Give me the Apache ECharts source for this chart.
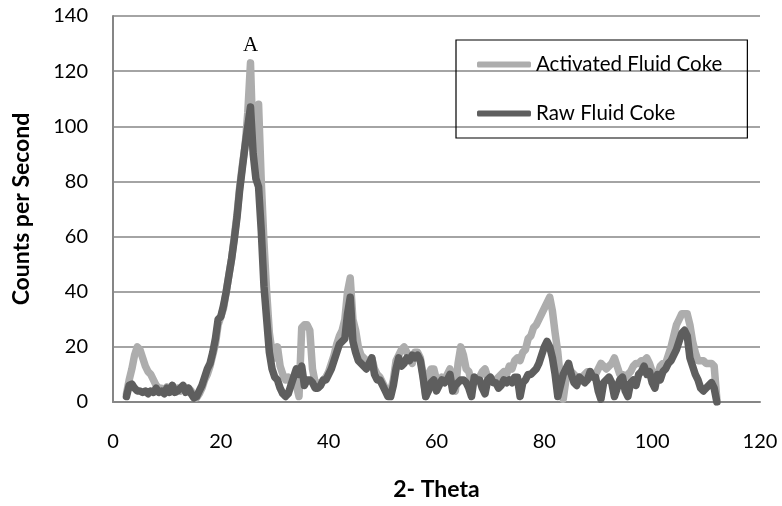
<!DOCTYPE html>
<html>
<head>
<meta charset="utf-8">
<script src="https://cdn.jsdelivr.net/npm/echarts@6/dist/echarts.min.js"></script>
<style>html,body{margin:0;padding:0;background:#fff}#c{width:782px;height:506px}</style>
</head>
<body>
<div id="c"></div>
<script>
var theta = [
2.5,3,3.5,4,4.5,5,5.5,6,6.5,7,
7.5,8,8.5,9,9.5,10,10.5,11,11.5,12,
12.5,13,13.5,14,14.5,15,15.5,16,16.5,17,
17.5,18,18.5,19,19.5,20,20.5,21,21.5,22,
22.5,23,23.5,24,24.5,25,25.5,26,26.5,27,
27.5,28,28.5,29,29.5,30,30.5,31,31.5,32,
32.5,33,33.5,34,34.5,35,35.5,36,36.5,37,
37.5,38,38.5,39,39.5,40,40.5,41,41.5,42,
42.5,43,43.5,44,44.5,45,45.5,46,46.5,47,
47.5,48,48.5,49,49.5,50,50.5,51,51.5,52,
52.5,53,53.5,54,54.5,55,55.5,56,56.5,57,
57.5,58,58.5,59,59.5,60,60.5,61,61.5,62,
62.5,63,63.5,64,64.5,65,65.5,66,66.5,67,
67.5,68,68.5,69,69.5,70,70.5,71,71.5,72,
72.5,73,73.5,74,74.5,75,75.5,76,76.5,77,
77.5,78,78.5,79,79.5,80,80.5,81,81.5,82,
82.5,83,83.5,84,84.5,85,85.5,86,86.5,87,
87.5,88,88.5,89,89.5,90,90.5,91,91.5,92,
92.5,93,93.5,94,94.5,95,95.5,96,96.5,97,
97.5,98,98.5,99,99.5,100,100.5,101,101.5,102,
102.5,103,103.5,104,104.5,105,105.5,106,106.5,107,
107.5,108,108.5,109,109.5,110,110.5,111,111.5,112
];
var activated = [
3,8,12,17,20,19,16,13,11,10,
8,6,5,5,4,5.5,4.5,6,4,5,
4,5.5,4,5,4,2,1.5,3,5,8,
10,13,17,21,28,31,34,40,46,52,
60,68,78,86,93,105,123,92,92,108,
80,58,40,25,18,16,20,13,10,8,
9,7,8,6,2,27,28,28,26,12,
7,7,6,8,9,11,14,17,21,24,
26,30,40,45,30,26,20,17,16,15,
14,16,12,10,9,7,5,4,4,8,
15,17,19,20,18,16,14,18,18,16,
10,2,10,12,12,8,7,9,8,10,
12,5,4,14,20,17,12,11,7,9,
8,9,11,12,9,8,8,8,9,10,
11,10,13,12,15,16,15,18,19,23,
24,27,28,30,32,34,36,38,33,25,
18,8,1,8,12,11,10,9,9,9,
10,11,11,9,10,12,14,13,12,13,
14,16,13,10,10,9,10,11,13,14,
14,15,15,16,14,11,10,10,13,14,
14,17,20,24,28,30,32,32,32,28,
22,18,15,15,15,14,14,14,13,1
];
var raw = [
2,6,6.5,5,4,4,3.5,4,3,4,
3.5,5,3.5,4,3,5,3.5,6,3.5,4,
5,6,3.5,5,3,1.5,2,4,6,9,
12,14,18,23,30,31,35,40,46,52,
59,67,77,85,93,100,107,90,81,78,
62,42,30,18,12,9,8,5,3,2,
3,6,9,12,10,13,6,8,8,7,
5,5,6,8,8,10,12,15,18,21,
22,23,32,38,22,18,15,14,13,12,
14,16,10,8,8,6,4,2,2,6,
12,16,13,14,16,15,17,16,17,15,
9,2,4,7,8,4,6,8,7,8,
10,4,6,7,8,8,7,5,2,9,
8,8,5,3,8,9,7,7,5,6,
8,7,8,7,9,9,2,7,8,10,
10,11,12,14,17,20,22,20,16,10,
2,6,10,12,14,10,7,6,9,8,
7,8,11,9,9,4,1,7,8,9,
7,2,5,8,9,4,2,7,8,6,
10,11,13,10,11,7,5,10,8,11,
12,14,15,17,19,22,25,26,24,16,
13,10,8,5,4,5,6,7,5,0
];
var seriesNames = ['Activated Fluid Coke', 'Raw Fluid Coke'];
var xTitle = '2- Theta';
var yTitle = 'Counts per Second';
var peakLabel = 'A';
var peakTheta = 25.5, peakValue = 123;

function pairs(ys){ var out=[]; for (var i=0;i<theta.length;i++) out.push([theta[i], ys[i]]); return out; }

var font = 'Lato';
var chart = echarts.init(document.getElementById('c'), null, {renderer:'canvas'});
chart.setOption({
  animation:false,
  backgroundColor:'#fff',
  grid:{left:113, right:22, top:16, bottom:101},
  legend:{
    left:456, top:40, orient:'vertical',
    borderColor:'#000', borderWidth:1.2,
    padding:[13,25,13,21],
    icon:'roundRect',
    itemWidth:54, itemHeight:6, itemGap:26,
    textStyle:{fontFamily:font, fontSize:20.5, color:'#000', padding:[0,0,0,0], lineHeight:23},
    data:seriesNames
  },
  xAxis:{
    type:'value', min:0, max:120, interval:20,
    name:xTitle, nameLocation:'middle', nameGap:76,
    nameTextStyle:{fontFamily:font, fontWeight:'bold', fontSize:23, color:'#000'},
    axisLine:{lineStyle:{color:'#868686', width:2}},
    axisTick:{show:false},
    axisLabel:{fontFamily:font, fontSize:20, color:'#000', margin:30},
    splitLine:{show:false}
  },
  yAxis:{
    type:'value', min:0, max:140, interval:20,
    name:yTitle, nameLocation:'middle', nameGap:80,
    nameTextStyle:{fontFamily:font, fontWeight:'bold', fontSize:23, color:'#000'},
    axisLine:{show:true, lineStyle:{color:'#868686', width:2}},
    axisTick:{show:false},
    axisLabel:{fontFamily:font, fontSize:20, color:'#000', margin:25},
    splitLine:{lineStyle:{color:'#868686', width:1.5}}
  },
  series:[
    {name:seriesNames[0], type:'line', data:pairs(activated), symbol:'none', showSymbol:false,
     lineStyle:{color:'#adadad', width:7.5, join:'round', cap:'round'}, itemStyle:{color:'#adadad'},
     markPoint:{symbol:'circle', symbolSize:0, data:[{coord:[peakTheta, peakValue], value:peakLabel}],
       label:{show:true, position:'top', distance:7, formatter:peakLabel,
              fontFamily:'Liberation Serif', fontSize:21, color:'#000'}}},
    {name:seriesNames[1], type:'line', data:pairs(raw), symbol:'none', showSymbol:false,
     lineStyle:{color:'#5e5e5e', width:7.5, join:'round', cap:'round'}, itemStyle:{color:'#5e5e5e'}}
  ]
});
</script>
</body>
</html>
